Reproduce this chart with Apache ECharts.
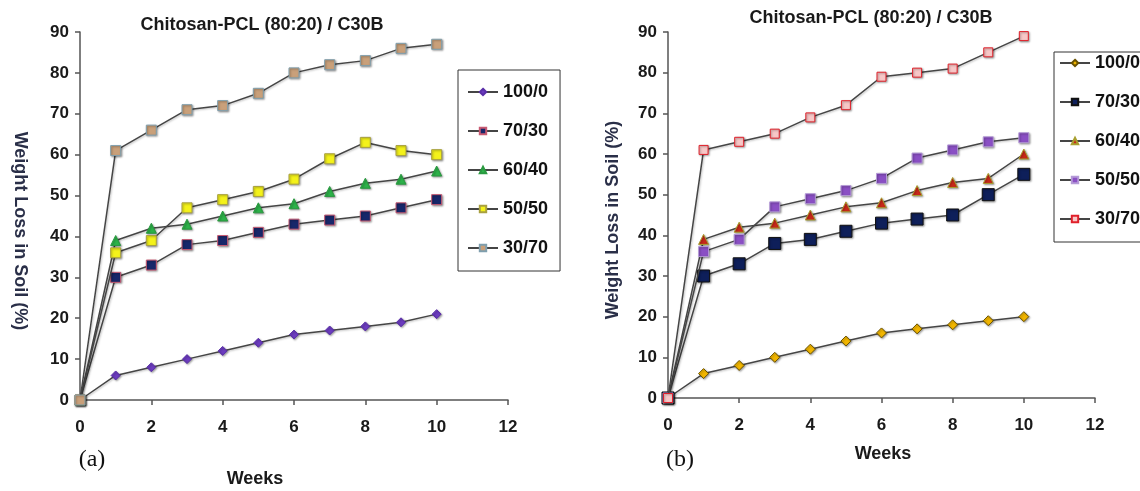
<!DOCTYPE html>
<html>
<head>
<meta charset="utf-8">
<script src="https://cdn.jsdelivr.net/npm/echarts@6/dist/echarts.min.js"></script>
<style>
  html, body { margin: 0; padding: 0; background: #fff; }
  #chart { width: 1140px; height: 491px; }
</style>
</head>
<body>
<div id="chart"></div>
<script>
// weeks on the x axis
var weeks = [0, 1, 2, 3, 4, 5, 6, 7, 8, 9, 10];
var ratios = ['100/0', '70/30', '60/40', '50/50', '30/70'];
var xTicks = [0, 2, 4, 6, 8, 10, 12];
var yTicks = [0, 10, 20, 30, 40, 50, 60, 70, 80, 90];

// (a) weight loss values
var a100_0 = [0, 6, 8, 10, 12, 14, 16, 17, 18, 19, 21];
var a70_30 = [0, 30, 33, 38, 39, 41, 43, 44, 45, 47, 49];
var a60_40 = [0, 39, 42, 43, 45, 47, 48, 51, 53, 54, 56];
var a50_50 = [0, 36, 39, 47, 49, 51, 54, 59, 63, 61, 60];
var a30_70 = [0, 61, 66, 71, 72, 75, 80, 82, 83, 86, 87];

// (b) weight loss values
var b100_0 = [0, 6, 8, 10, 12, 14, 16, 17, 18, 19, 20];
var b70_30 = [0, 30, 33, 38, 39, 41, 43, 44, 45, 50, 55];
var b60_40 = [0, 39, 42, 43, 45, 47, 48, 51, 53, 54, 60];
var b50_50 = [0, 36, 39, 47, 49, 51, 54, 59, 61, 63, 64];
var b30_70 = [0, 61, 63, 65, 69, 72, 79, 80, 81, 85, 89];

var font = 'Liberation Sans, Arial, sans-serif';

// marker styles for each panel
var stylesA = [
  { symbol: 'diamond', size: 9, color: '#6c3cc0', border: '#5a2fa8' },
  { symbol: 'rect', size: 10, color: '#17276a', border: '#c85a72' },
  { symbol: 'triangle', size: 10, color: '#2db34a', border: '#2a9a40' },
  { symbol: 'rect', size: 10, color: '#f4f21a', border: '#a8a040' },
  { symbol: 'rect', size: 10, color: '#c9a07a', border: '#7f9fae' }
];
var stylesB = [
  { symbol: 'diamond', size: 10, color: '#f2b600', border: '#6a5200' },
  { symbol: 'rect', size: 12, color: '#0e1f5a', border: '#111111' },
  { symbol: 'triangle', size: 10, color: '#c8281a', border: '#a8a030' },
  { symbol: 'rect', size: 10, color: '#8a4fc4', border: '#b49ad6' },
  { symbol: 'rect', size: 9, color: '#f7c7c7', border: '#e0202a' }
];

function pairs(values) {
  var out = [];
  for (var i = 0; i < weeks.length; i++) {
    out.push([weeks[i], values[i]]);
  }
  return out;
}

function makeSeries(prefix, list, styles, idx) {
  var res = [];
  for (var i = 0; i < list.length; i++) {
    var st = styles[i];
    res.push({
      name: prefix + ratios[i],
      type: 'line',
      xAxisIndex: idx,
      yAxisIndex: idx,
      data: pairs(list[i]),
      symbol: st.symbol,
      symbolSize: st.size,
      showAllSymbol: true,
      z: 2 + i,
      lineStyle: {
        color: '#454545',
        width: 1.5,
        shadowColor: 'rgba(0,0,0,0.25)',
        shadowBlur: 2,
        shadowOffsetX: 1,
        shadowOffsetY: 1
      },
      itemStyle: {
        color: st.color,
        borderColor: st.border,
        borderWidth: 1,
        shadowColor: 'rgba(0,0,0,0.35)',
        shadowBlur: 2,
        shadowOffsetX: 1,
        shadowOffsetY: 1
      },
      emphasis: { disabled: true }
    });
  }
  return res;
}

var seriesA = makeSeries('a ', [a100_0, a70_30, a60_40, a50_50, a30_70], stylesA, 0);
var seriesB = makeSeries('b ', [b100_0, b70_30, b60_40, b50_50, b30_70], stylesB, 1);

function xAxisCfg(idx) {
  return {
    type: 'value',
    gridIndex: idx,
    min: xTicks[0],
    max: xTicks[xTicks.length - 1],
    interval: 2,
    axisLine: { show: true, lineStyle: { color: '#555', width: 1.5 } },
    axisTick: { show: true, length: 5, lineStyle: { color: '#555', width: 1.5 } },
    axisLabel: { margin: 19, fontSize: 17, fontWeight: 'bold', color: '#1a1a1a', fontFamily: font },
    splitLine: { show: false }
  };
}

function yAxisCfg(idx) {
  return {
    type: 'value',
    gridIndex: idx,
    min: yTicks[0],
    max: yTicks[yTicks.length - 1],
    interval: 10,
    axisLine: { show: true, lineStyle: { color: '#555', width: 1.5 } },
    axisTick: { show: true, length: 5, lineStyle: { color: '#555', width: 1.5 } },
    axisLabel: { margin: 11, fontSize: 17, fontWeight: 'bold', color: '#1a1a1a', fontFamily: font },
    splitLine: { show: false }
  };
}

function legendCfg(prefix, pos, padding) {
  var names = [];
  for (var i = 0; i < ratios.length; i++) names.push(prefix + ratios[i]);
  return {
    data: names,
    orient: 'vertical',
    left: pos.left,
    top: pos.top,
    padding: padding,
    itemGap: 21,
    itemWidth: 30,
    itemHeight: 8,
    borderColor: '#333',
    borderWidth: 1,
    selectedMode: false,
    formatter: function (name) { return name.slice(2); },
    textStyle: { fontSize: 18, lineHeight: 18, fontWeight: 'bold', color: '#111', fontFamily: font }
  };
}

var chart = echarts.init(document.getElementById('chart'));
var option = {
  animation: false,
  backgroundColor: '#fff',
  grid: [
    { left: 80, top: 32, width: 428, height: 368 },
    { left: 668, top: 32, width: 427, height: 366 }
  ],
  xAxis: [xAxisCfg(0), xAxisCfg(1)],
  yAxis: [yAxisCfg(0), yAxisCfg(1)],
  legend: [
    legendCfg('a ', { left: 458, top: 70 }, [13, 12, 14, 9]),
    legendCfg('b ', { left: 1054, top: 52 }, [2, 30, 14, 5])
  ],
  graphic: [
    { type: 'text', x: 262, y: 25, style: { text: 'Chitosan-PCL (80:20) / C30B', font: 'bold 18px ' + font, fill: '#1a1a1a', align: 'center', verticalAlign: 'middle' } },
    { type: 'text', x: 871, y: 18, style: { text: 'Chitosan-PCL (80:20) / C30B', font: 'bold 18px ' + font, fill: '#1a1a1a', align: 'center', verticalAlign: 'middle' } },
    // left name reads top to bottom, right one bottom to top
    { type: 'text', x: 20, y: 231, rotation: -Math.PI / 2, style: { text: 'Weight Loss in Soil (%)', font: 'bold 18px ' + font, fill: '#2a2f48', align: 'center', verticalAlign: 'middle' } },
    { type: 'text', x: 613, y: 220, rotation: Math.PI / 2, style: { text: 'Weight Loss in Soil (%)', font: 'bold 18px ' + font, fill: '#2a2f48', align: 'center', verticalAlign: 'middle' } },
    { type: 'text', x: 255, y: 479, style: { text: 'Weeks', font: 'bold 18px ' + font, fill: '#1a1a1a', align: 'center', verticalAlign: 'middle' } },
    { type: 'text', x: 883, y: 454, style: { text: 'Weeks', font: 'bold 18px ' + font, fill: '#1a1a1a', align: 'center', verticalAlign: 'middle' } },
    { type: 'text', x: 92, y: 460, style: { text: '(a)', font: '24px Liberation Serif, Times New Roman, serif', fill: '#111', align: 'center', verticalAlign: 'middle' } },
    { type: 'text', x: 680, y: 460, style: { text: '(b)', font: '24px Liberation Serif, Times New Roman, serif', fill: '#111', align: 'center', verticalAlign: 'middle' } }
  ],
  series: seriesA.concat(seriesB)
};
chart.setOption(option);
</script>
</body>
</html>
